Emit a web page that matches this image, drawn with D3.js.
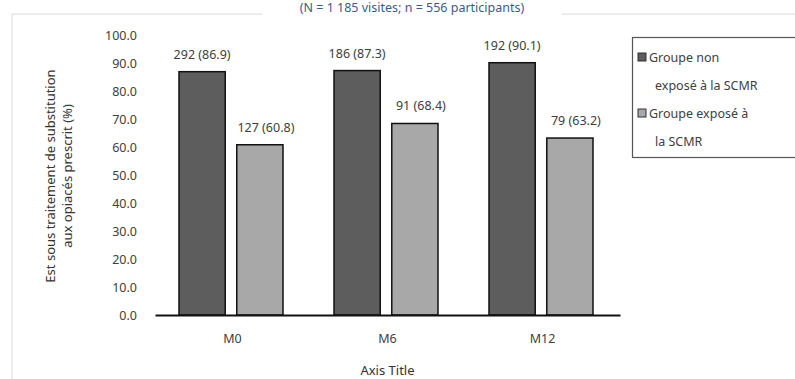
<!DOCTYPE html>
<html>
<head>
<meta charset="utf-8">
<script src="https://cdn.jsdelivr.net/npm/d3@7"></script>
<style>
  html, body { margin: 0; padding: 0; background: #fff; }
  svg { display: block; font-family: "Noto Sans", "Open Sans", sans-serif; }
</style>
</head>
<body>
<svg id="chart" width="795" height="379"></svg>
<script>
// ---- data ----
const categories = ["M0", "M6", "M12"];
const seriesNames = ["Groupe non exposé à la SCMR", "Groupe exposé à la SCMR"];
const legendLines = [["Groupe non", "exposé à la SCMR"], ["Groupe exposé à", "la SCMR"]];
const nonExposedPct = [86.9, 87.3, 90.1];
const nonExposedN = [292, 186, 192];
const exposedPct = [60.8, 68.4, 63.2];
const exposedN = [127, 91, 79];
const yTicks = [0, 10, 20, 30, 40, 50, 60, 70, 80, 90, 100];
const titleText = "(N = 1 185 visites; n = 556 participants)";
const yTitleLines = ["Est sous traitement de substitution", "aux opiacés prescrit (%)"];
const xTitle = "Axis Title";

const seriesColors = ["#5d5d5d", "#a8a8a8"];

const rows = categories.map((c, i) => ({
  cat: c,
  vals: [
    { s: 0, pct: nonExposedPct[i], n: nonExposedN[i] },
    { s: 1, pct: exposedPct[i], n: exposedN[i] }
  ]
}));

const svg = d3.select("#chart");

// outer frame (chart area border)
svg.append("path")
  .attr("d", "M12,379 L12,14 L795,14")
  .attr("fill", "none").attr("stroke", "#d9d9d9").attr("stroke-width", 1);

// title
svg.append("rect").attr("x", 262).attr("y", 0).attr("width", 300).attr("height", 18).attr("fill", "#fff");
svg.append("text")
  .attr("x", 412).attr("y", 12)
  .attr("text-anchor", "middle")
  .attr("font-size", 12.5)
  .attr("fill", "#3b5b8e")
  .text(titleText);

// scales
const x0 = d3.scaleBand().domain(categories).range([155, 620]).padding(0);
const x1 = d3.scaleBand().domain([0, 1]).range([24, 128]).paddingInner(0.2);
const y = d3.scaleLinear().domain([0, 100]).range([315, 35]);

// y axis labels
const yAxis = d3.axisLeft(y).tickValues(yTicks).tickFormat(d3.format(".1f")).tickSize(0).tickPadding(0);
const yg = svg.append("g").attr("transform", "translate(137,0)").call(yAxis);
yg.select(".domain").remove();
yg.selectAll("text").attr("font-size", 12.5).attr("fill", "#404040")
  .attr("font-family", "'Noto Sans', sans-serif");

// bars
const groups = svg.append("g").selectAll("g").data(rows).join("g")
  .attr("transform", d => `translate(${x0(d.cat)},0)`);

groups.selectAll("rect").data(d => d.vals).join("rect")
  .attr("x", d => x1(d.s))
  .attr("y", d => y(d.pct))
  .attr("width", x1.bandwidth())
  .attr("height", d => y(0) - y(d.pct))
  .attr("fill", d => seriesColors[d.s])
  .attr("stroke", "#111")
  .attr("stroke-width", 1.5);

groups.selectAll("text").data(d => d.vals).join("text")
  .attr("x", d => x1(d.s) + x1.bandwidth() / 2 + (d.s === 1 ? 6 : 0))
  .attr("y", d => y(d.pct) - 13)
  .attr("text-anchor", "middle")
  .attr("font-size", 12.5)
  .attr("fill", "#404040")
  .text(d => `${d.n} (${d.pct.toFixed(1)})`);

// x axis
const xAxis = d3.axisBottom(x0).tickSize(0).tickPadding(19);
const xg = svg.append("g").attr("transform", "translate(0,315)").call(xAxis);
xg.select(".domain").attr("stroke", "#111").attr("stroke-width", 1.8);
xg.selectAll("text").attr("font-size", 12.5).attr("fill", "#404040")
  .attr("font-family", "'Noto Sans', sans-serif");

// axis titles
svg.append("text")
  .attr("x", (155 + 620) / 2).attr("y", 375)
  .attr("text-anchor", "middle")
  .attr("font-size", 13).attr("fill", "#333")
  .text(xTitle);

const yt = svg.append("text")
  .attr("transform", "translate(0,176) rotate(-90)")
  .attr("text-anchor", "middle")
  .attr("font-size", 13).attr("fill", "#333");
yTitleLines.forEach((l, i) => {
  yt.append("tspan").attr("x", 0).attr("y", 55 + i * 17).text(l);
});

// legend
const lg = svg.append("g");
lg.append("rect").attr("x", 632.5).attr("y", 37.5).attr("width", 170).attr("height", 120)
  .attr("fill", "#fff").attr("stroke", "#555").attr("stroke-width", 1.2);
seriesNames.forEach((name, i) => {
  const yy = 57 + i * 56;
  lg.append("rect").attr("x", 638).attr("y", yy - 4).attr("width", 8).attr("height", 8)
    .attr("fill", seriesColors[i]).attr("stroke", "#333").attr("stroke-width", 1);
  const t = lg.append("text").attr("font-size", 12.5).attr("fill", "#404040");
  legendLines[i].forEach((ln, j) => {
    t.append("tspan").attr("x", j === 0 ? 649 : 655).attr("y", yy + 4.5 + j * 28).text(ln);
  });
});
</script>
</body>
</html>
